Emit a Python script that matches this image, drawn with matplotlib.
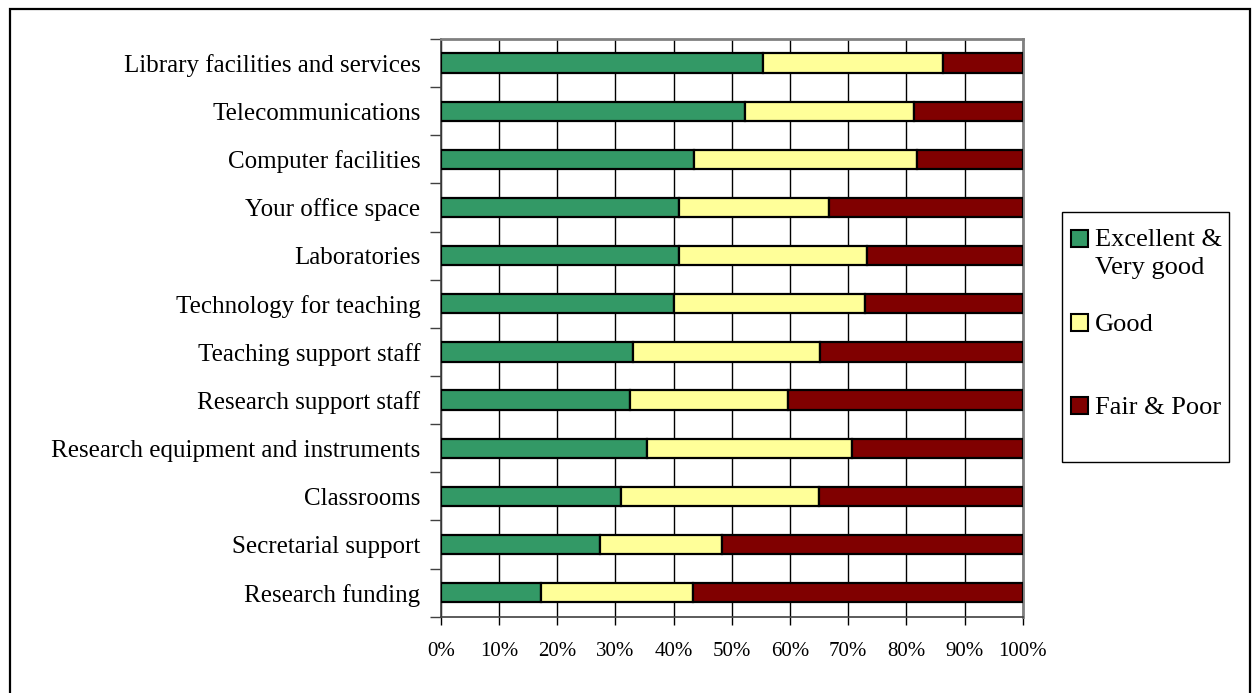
import matplotlib
matplotlib.use('Agg')
import matplotlib.pyplot as plt
from matplotlib.patches import Rectangle
import numpy as np

plt.rcParams['font.family'] = ['Liberation Serif', 'DejaVu Serif']

categories = ['Library facilities and services', 'Telecommunications', 'Computer facilities',
              'Your office space', 'Laboratories', 'Technology for teaching',
              'Teaching support staff', 'Research support staff',
              'Research equipment and instruments', 'Classrooms',
              'Secretarial support', 'Research funding']
excellent = [55.4, 52.3, 43.6, 40.9, 41.0, 40.0, 33.0, 32.6, 35.4, 31.0, 27.4, 17.2]
good = [30.9, 29.1, 38.3, 25.8, 32.3, 32.9, 32.2, 27.0, 35.2, 34.0, 20.9, 26.2]
fair_poor = [100 - e - g for e, g in zip(excellent, good)]
series_names = ['Excellent &\nVery good', 'Good', 'Fair & Poor']
colors = ['#339966', '#FFFF99', '#800000']

W, H = 1257, 693
fig = plt.figure(figsize=(W / 100, H / 100), dpi=100)
ax = fig.add_axes([440.7 / W, (H - 616.7) / H, 582 / W, (616.7 - 39) / H])

y = np.arange(len(categories))[::-1]
left = np.zeros(len(categories))
for vals, col in zip([excellent, good, fair_poor], colors):
    ax.barh(y, vals, left=left, height=0.4, color=col, edgecolor='black', linewidth=1.6, zorder=3)
    left = left + np.array(vals)

ax.set_xlim(0, 100)
ax.set_ylim(-0.5, len(categories) - 0.5)
ax.set_xticks(np.arange(0, 101, 10))
ax.set_xticklabels([f'{v}%' for v in range(0, 101, 10)], fontsize=15)
ax.tick_params(axis='x', length=6, width=1, pad=12, color='black')

# category labels at centers, tick marks at the boundaries
ax.set_yticks(np.arange(-0.5, len(categories), 1.0))
ax.set_yticklabels([])
ax.set_yticks(y, minor=True)
ax.set_yticklabels(categories, minor=True, fontsize=18)
ax.tick_params(axis='y', which='major', length=8, width=1, color='#404040')
ax.tick_params(axis='y', which='minor', length=0, pad=14.5)

ax.grid(axis='x', color='black', linewidth=1, zorder=0)
ax.set_axisbelow(True)
for s in ['top', 'right']:
    ax.spines[s].set_color('#808080')
    ax.spines[s].set_linewidth(2)
for s in ['left', 'bottom']:
    ax.spines[s].set_color('#404040')
    ax.spines[s].set_linewidth(1.2)

# legend box, drawn by hand in pixel coordinates
def px(x0, y0):
    return x0 / W, 1 - y0 / H

fig.patches.append(Rectangle(px(1062, 462), (1229 - 1062) / W, (462 - 212) / H,
                             transform=fig.transFigure, fill=False, edgecolor='black', linewidth=1))
square_top = [230, 314, 397]
text_top = [229, 314, 397]
for name, col, sy, ty in zip(series_names, colors, square_top, text_top):
    fig.patches.append(Rectangle(px(1071, sy + 17), 17 / W, 17 / H, transform=fig.transFigure,
                                 facecolor=col, edgecolor='black', linewidth=1.5))
    fig.text(1095 / W, 1 - ty / H, name, fontsize=19, va='top', ha='left', linespacing=1.38)

# outer border of the chart (runs off the bottom edge)
fig.patches.append(Rectangle(px(10, 700), (1250 - 10) / W, (700 - 9) / H,
                             transform=fig.transFigure, fill=False, edgecolor='black', linewidth=1.6))

fig.savefig('out.png', dpi=100)
